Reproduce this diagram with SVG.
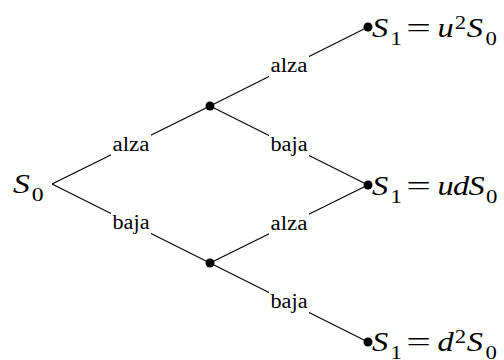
<svg xmlns="http://www.w3.org/2000/svg" width="504" height="360" viewBox="0 0 504 360">
<style>
.edge{stroke:#000;stroke-width:1.2;fill:none}
.dot{fill:#000}
.lbl{font-size:20px;fill:#000}
.box{fill:#fff}
.m{font-size:27px;fill:#000}
.i{font-style:italic}
.s{font-size:19px}
</style>
<g id="connectors">
<line class="edge" x1="52" y1="184" x2="210" y2="106"/>
<line class="edge" x1="52" y1="184" x2="210" y2="263"/>
<line class="edge" x1="210" y1="106" x2="368" y2="27"/>
<line class="edge" x1="210" y1="106" x2="368" y2="185"/>
<line class="edge" x1="210" y1="263" x2="368" y2="185"/>
<line class="edge" x1="210" y1="263" x2="368" y2="342"/>
<g font-family="'Liberation Serif', 'Times New Roman', serif">
<g id="lbl-1"><rect class="box" x="111" y="134" width="40" height="22"/><text class="lbl" x="131" y="151" text-anchor="middle" textLength="37" lengthAdjust="spacingAndGlyphs">alza</text></g>
<g id="lbl-2"><rect class="box" x="111" y="212" width="40" height="22"/><text class="lbl" x="131" y="229" text-anchor="middle" textLength="37" lengthAdjust="spacingAndGlyphs">baja</text></g>
<g id="lbl-3"><rect class="box" x="269" y="55" width="40" height="22"/><text class="lbl" x="289" y="72" text-anchor="middle" textLength="37" lengthAdjust="spacingAndGlyphs">alza</text></g>
<g id="lbl-4"><rect class="box" x="269" y="134" width="40" height="22"/><text class="lbl" x="289" y="151" text-anchor="middle" textLength="37" lengthAdjust="spacingAndGlyphs">baja</text></g>
<g id="lbl-5"><rect class="box" x="269" y="213" width="40" height="22"/><text class="lbl" x="289" y="230" text-anchor="middle" textLength="37" lengthAdjust="spacingAndGlyphs">alza</text></g>
<g id="lbl-6"><rect class="box" x="269" y="291" width="40" height="22"/><text class="lbl" x="289" y="308" text-anchor="middle" textLength="37" lengthAdjust="spacingAndGlyphs">baja</text></g>
</g>
</g>
<g font-family="'Liberation Serif', 'Times New Roman', serif">
<g id="root">
<g transform="translate(13,193) scale(1.25,1)"><text class="m"><tspan class="i" x="0" y="0">S</tspan><tspan class="s" x="15" y="8">0</tspan></text></g>
</g>
<g id="up"><circle class="dot" cx="210" cy="106" r="4.5"/></g>
<g id="down"><circle class="dot" cx="210" cy="263" r="4.5"/></g>
<g id="uu">
<circle class="dot" cx="368" cy="27" r="4.5"/>
<g transform="translate(372,36.5) scale(1.2,1)"><text class="m"><tspan class="i" x="0" y="0">S</tspan><tspan class="s" x="15.5" y="8">1</tspan></text><text class="m" x="28.5" y="0" textLength="20.5" lengthAdjust="spacingAndGlyphs">=</text><text class="m"><tspan class="i" x="54.5" y="0">u</tspan><tspan class="s" x="69" y="-8">2</tspan><tspan class="i" x="79" y="0">S</tspan><tspan class="s" x="94.5" y="8">0</tspan></text></g>
</g>
<g id="ud">
<circle class="dot" cx="368" cy="185" r="4.5"/>
<g transform="translate(372,194.5) scale(1.2,1)"><text class="m"><tspan class="i" x="0" y="0">S</tspan><tspan class="s" x="15.5" y="8">1</tspan></text><text class="m" x="28.5" y="0" textLength="20.5" lengthAdjust="spacingAndGlyphs">=</text><text class="m"><tspan class="i" x="54.5" y="0">u</tspan><tspan class="i" x="67.5" y="0">d</tspan><tspan class="i" x="80.5" y="0">S</tspan><tspan class="s" x="95" y="8">0</tspan></text></g>
</g>
<g id="dd">
<circle class="dot" cx="368" cy="342" r="4.5"/>
<g transform="translate(372,351) scale(1.2,1)"><text class="m"><tspan class="i" x="0" y="0">S</tspan><tspan class="s" x="15.5" y="7.5">1</tspan></text><text class="m" x="28.5" y="0" textLength="20.5" lengthAdjust="spacingAndGlyphs">=</text><text class="m"><tspan class="i" x="54.5" y="0">d</tspan><tspan class="s" x="69" y="-8">2</tspan><tspan class="i" x="79" y="0">S</tspan><tspan class="s" x="94.5" y="7.5">0</tspan></text></g>
</g>
</g>
</svg>
